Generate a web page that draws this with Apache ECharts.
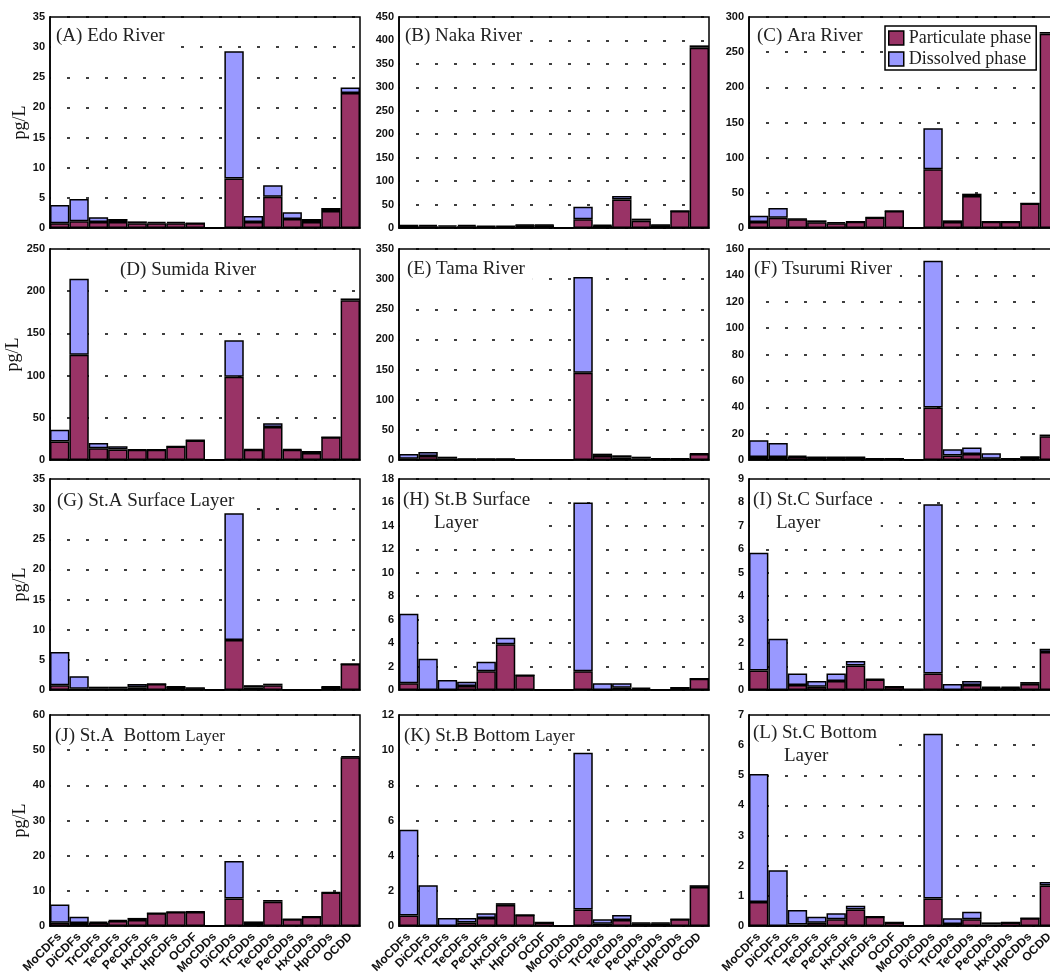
<!DOCTYPE html>
<html>
<head>
<meta charset="utf-8">
<script src="https://cdn.jsdelivr.net/npm/echarts/dist/echarts.min.js"></script>
<style>
html, body { margin: 0; padding: 0; background: #fff; }
#chart { width: 1050px; height: 973px; }
</style>
</head>
<body>
<div id="chart"></div>
<script>
var categories = ['MoCDFs', 'DiCDFs', 'TrCDFs', 'TeCDFs', 'PeCDFs', 'HxCDFs', 'HpCDFs', 'OCDF',
    'MoCDDs', 'DiCDDs', 'TrCDDs', 'TeCDDs', 'PeCDDs', 'HxCDDs', 'HpCDDs', 'OCDD'];

// particulate / dissolved phase, pg/L
var edoPart = [0.8, 1.1, 1.0, 1.0, 0.8, 0.8, 0.8, 0.8, 0, 8.2, 1.0, 5.2, 1.5, 1.0, 2.8, 22.4];
var edoDiss = [3.0, 3.7, 0.8, 0.5, 0.3, 0.2, 0.2, 0, 0, 21.1, 1.0, 1.9, 1.1, 0.5, 0.5, 0.9];
var nakaPart = [1, 4, 3, 4, 3, 3, 6, 6, 0, 18.5, 5, 61, 15.6, 6, 36, 384.5];
var nakaDiss = [6, 3, 2, 3, 1, 1, 1, 1, 0, 27, 2, 7, 4.4, 1, 0, 5];
var araPart = [8.5, 14.7, 12.5, 8, 6.6, 9, 15, 24, 0, 83.4, 8.5, 45.5, 9, 9, 35, 276.3];
var araDiss = [9, 13.7, 0.5, 2.9, 1.9, 0, 0.2, 0.2, 0, 58.6, 2.4, 3.3, 0, 0, 0, 2.4];
var sumidaPart = [21.8, 124.8, 13.9, 12.3, 12, 12, 16, 23.2, 0, 98.7, 12, 39.2, 12, 8.3, 27, 189.4];
var sumidaDiss = [13.9, 89.9, 6.3, 3.9, 0.3, 0.3, 0.2, 0.2, 0, 43.1, 0.7, 4.4, 0.7, 2.4, 0, 2.0];
var tamaPart = [2.2, 6.7, 3, 1.5, 1.5, 1.5, 0.3, 0.3, 0, 144.8, 6.7, 3.9, 2.2, 2, 2, 10];
var tamaDiss = [7.8, 6.6, 2.5, 0.7, 0.5, 0.5, 0.2, 0.2, 0, 158.6, 3.8, 3.9, 3.3, 0.2, 0.2, 0.5];
var tsurumiPart = [2.3, 2.3, 2.5, 2, 2, 2, 1, 1, 0, 39.8, 3.5, 4.6, 1, 1, 2.3, 18];
var tsurumiDiss = [12.7, 10.6, 0.8, 0, 0, 0, 0, 0, 0, 111.3, 4.6, 4.8, 4.1, 0, 0, 1.3];
var stASurfPart = [0.77, 0.2, 0.3, 0.3, 0.45, 1.0, 0.5, 0.3, 0, 8.3, 0.4, 0.8, 0, 0, 0.5, 4.3];
var stASurfDiss = [5.53, 2.1, 0.25, 0.25, 0.55, 0, 0.05, 0.05, 0, 21.0, 0.4, 0.25, 0, 0, 0.05, 0];
var stBSurfPart = [0.57, 0, 0, 0.34, 1.6, 3.9, 1.25, 0, 0, 1.6, 0, 0.2, 0.1, 0, 0.2, 0.97];
var stBSurfDiss = [5.93, 2.67, 0.85, 0.37, 0.8, 0.56, 0, 0, 0, 14.4, 0.57, 0.37, 0.1, 0, 0, 0];
var stCSurfPart = [0.83, 0, 0.21, 0.14, 0.38, 1.04, 0.45, 0.14, 0.03, 0.7, 0, 0.21, 0.1, 0.1, 0.26, 1.62];
var stCSurfDiss = [5.02, 2.19, 0.49, 0.24, 0.32, 0.2, 0.02, 0, 0, 7.22, 0.26, 0.17, 0.04, 0.04, 0.08, 0.14];
var stABotPart = [0.9, 0.85, 0.9, 1.4, 1.7, 3.6, 4.0, 4.0, 0, 7.8, 0.85, 6.9, 1.9, 2.6, 9.5, 48];
var stABotDiss = [5.2, 1.75, 0.4, 0.3, 0.6, 0, 0, 0.05, 0, 10.7, 0.45, 0.5, 0, 0, 0.1, 0.3];
var stBBotPart = [0.6, 0, 0, 0.2, 0.45, 1.2, 0.62, 0.2, 0, 0.94, 0.13, 0.34, 0.15, 0.15, 0.38, 2.22];
var stBBotDiss = [4.87, 2.32, 0.45, 0.25, 0.27, 0.1, 0, 0, 0, 8.91, 0.25, 0.28, 0.05, 0.05, 0, 0.1];
var stCBotPart = [0.8, 0, 0.05, 0.11, 0.22, 0.55, 0.31, 0.12, 0, 0.91, 0.07, 0.22, 0.05, 0.12, 0.26, 1.34];
var stCBotDiss = [4.24, 1.85, 0.48, 0.2, 0.2, 0.12, 0, 0, 0, 5.47, 0.19, 0.25, 0.07, 0, 0, 0.12];

var partList = [edoPart, nakaPart, araPart, sumidaPart, tamaPart, tsurumiPart,
    stASurfPart, stBSurfPart, stCSurfPart, stABotPart, stBBotPart, stCBotPart];
var dissList = [edoDiss, nakaDiss, araDiss, sumidaDiss, tamaDiss, tsurumiDiss,
    stASurfDiss, stBSurfDiss, stCSurfDiss, stABotDiss, stBBotDiss, stCBotDiss];

var panelTitles = ['(A) Edo River', '(B) Naka River', '(C) Ara River',
    '(D) Sumida River', '(E) Tama River', '(F) Tsurumi River',
    '(G) St.A Surface Layer', '(H) St.B Surface\n{ind1|Layer}', '(I) St.C Surface\n{ind2|Layer}',
    '(J) St.A  Bottom {sm|Layer}', '(K) St.B Bottom {sm|Layer}', '(L) St.C Bottom\n{ind3|Layer}'];
var yMax = [35, 450, 300, 250, 350, 160, 35, 18, 9, 60, 12, 7];
var yStep = [5, 50, 50, 50, 50, 20, 5, 2, 1, 10, 2, 1];

var colLeft = [50, 399, 749];
var rowTop = [17, 249, 479, 715];
var gridW = 310, gridH = 211;
// title offsets inside each plot
var titleOff = [[6, 8], [6, 8], [8, 8], [70, 10], [8, 9], [5, 9],
    [7, 11], [4, 10], [4, 10], [5, 10], [5, 10], [4, 7]];

var PURPLE = '#993366', BLUE = '#9999ff';
var SERIF = 'Liberation Serif';
var SANS = 'Liberation Sans';

var chart = echarts.init(document.getElementById('chart'));

var grids = [], xAxes = [], yAxes = [], series = [], titles = [];

for (var i = 0; i < 12; i++) {
    var col = i % 3, row = Math.floor(i / 3);
    var gx = colLeft[col], gy = rowTop[row];

    grids.push({
        left: gx, top: gy, width: gridW, height: gridH,
        outerBoundsMode: 'none',
        show: true, borderColor: '#000', borderWidth: 1.5
    });

    xAxes.push({
        type: 'category', gridIndex: i, data: categories,
        axisLine: { lineStyle: { color: '#000', width: 1.5 } },
        axisTick: { show: false },
        axisLabel: {
            show: row === 3, rotate: 45, interval: 0, margin: 9,
            fontFamily: SANS, fontSize: 12, fontWeight: 'bold', color: '#111'
        }
    });

    yAxes.push({
        type: 'value', gridIndex: i, min: 0, max: yMax[i], interval: yStep[i],
        name: col === 0 ? 'pg/L' : '',
        nameLocation: 'middle', nameGap: 17,
        nameTextStyle: { fontFamily: SERIF, fontSize: 18, color: '#111' },
        axisLine: { show: true, lineStyle: { color: '#000', width: 1.5 } },
        axisTick: { show: false },
        axisLabel: { margin: 5, fontFamily: SANS, fontSize: 11, fontWeight: 'bold', color: '#111' },
        splitLine: { show: true, lineStyle: { color: '#000', width: 1.5, type: [3, 16], dashOffset: 2 } }
    });

    series.push({
        name: 'Particulate phase', type: 'bar', stack: 'p' + i,
        xAxisIndex: i, yAxisIndex: i, data: partList[i],
        barCategoryGap: '0%',
        itemStyle: { color: PURPLE, borderColor: '#000', borderWidth: 1.5 }
    });
    series.push({
        name: 'Dissolved phase', type: 'bar', stack: 'p' + i,
        xAxisIndex: i, yAxisIndex: i, data: dissList[i],
        barCategoryGap: '0%',
        itemStyle: { color: BLUE, borderColor: '#000', borderWidth: 1.5 }
    });

    titles.push({
        text: panelTitles[i],
        left: gx + titleOff[i][0], top: gy + titleOff[i][1],
        backgroundColor: '#fff', padding: [0, 8, 0, 0],
        textStyle: {
            fontFamily: SERIF, fontSize: 19, fontWeight: 'normal', color: '#222', lineHeight: 23,
            rich: {
                ind1: { fontFamily: SERIF, fontSize: 19, color: '#222', padding: [0, 0, 0, 31] },
                ind2: { fontFamily: SERIF, fontSize: 19, color: '#222', padding: [0, 0, 0, 23] },
                ind3: { fontFamily: SERIF, fontSize: 19, color: '#222', padding: [0, 0, 0, 31] },
                sm: { fontFamily: SERIF, fontSize: 17, color: '#222' }
            }
        }
    });
}

var option = {
    backgroundColor: '#fff',
    animation: false,
    title: titles,
    legend: {
        data: ['Particulate phase', 'Dissolved phase'],
        orient: 'vertical', left: 885, top: 26,
        backgroundColor: '#fff', borderColor: '#000', borderWidth: 1.5,
        padding: [3, 5, 2, 3], itemGap: 3,
        icon: 'rect', itemWidth: 15, itemHeight: 14,
        itemStyle: { borderColor: '#000', borderWidth: 1.5 },
        textStyle: { fontFamily: SERIF, fontSize: 18, color: '#222' }
    },
    grid: grids,
    xAxis: xAxes,
    yAxis: yAxes,
    series: series
};

chart.setOption(option);
</script>
</body>
</html>
